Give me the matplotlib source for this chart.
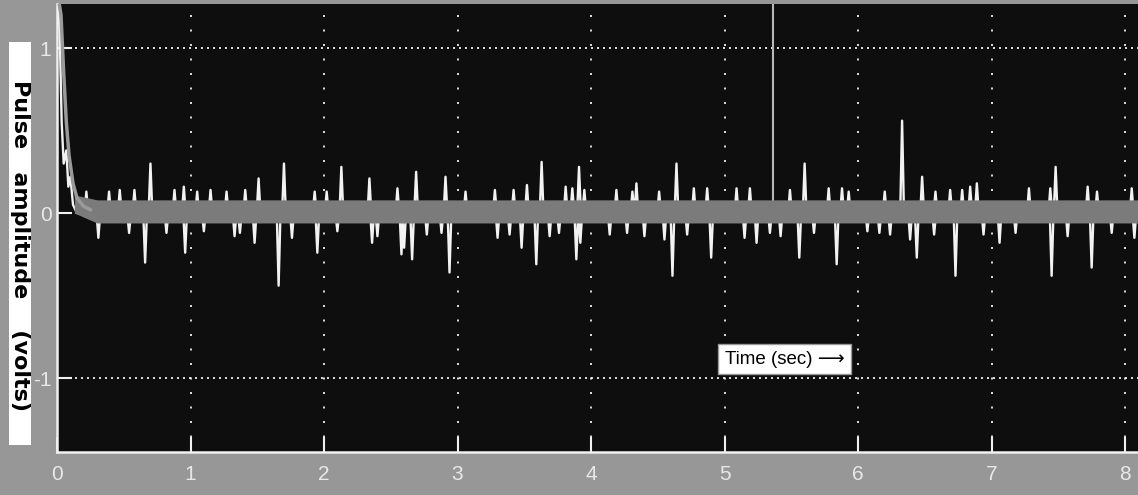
import matplotlib.pyplot as plt
from matplotlib.patches import Rectangle

# gray (averaged) trace: start-up decay, then a noise band around zero
decay_t = [0.0, 0.03, 0.05, 0.07, 0.09, 0.12, 0.15, 0.20, 0.25]
decay_v = [1.35, 1.20, 0.85, 0.55, 0.35, 0.18, 0.09, 0.04, 0.02]
band_t = [0.13, 0.30, 8.10]
band_hi = [0.11, 0.08, 0.08]
band_lo = [0.00, -0.06, -0.06]

# white (raw) trace: start-up decay
wdecay_t = [0.0, 0.02, 0.035, 0.05, 0.07, 0.085, 0.10, 0.12, 0.15]
wdecay_v = [1.35, 1.10, 0.55, 0.30, 0.38, 0.16, 0.22, 0.05, 0.0]

# larger spikes (sec, volts)
pos_t = [0.70, 0.95, 1.51, 1.70, 2.13, 2.34, 2.69, 2.91, 3.42, 3.52, 3.63, 3.91,
         4.34, 4.64, 5.09, 5.19, 5.60, 5.78, 6.33, 6.48, 6.69, 6.78, 6.89, 7.48, 7.72]
pos_v = [0.30, 0.16, 0.21, 0.30, 0.28, 0.21, 0.25, 0.22, 0.14, 0.17, 0.31, 0.28,
         0.18, 0.30, 0.15, 0.15, 0.30, 0.15, 0.56, 0.22, 0.14, 0.14, 0.18, 0.28, 0.16]
neg_t = [0.31, 0.66, 0.96, 1.48, 1.66, 1.95, 2.36, 2.60, 2.66, 2.94, 3.48, 3.59,
         3.76, 3.89, 4.55, 4.61, 4.90, 5.15, 5.34, 5.56, 5.84, 6.24, 6.39, 6.44,
         6.73, 7.06, 7.45, 7.75, 8.07]
neg_v = [-0.15, -0.30, -0.24, -0.18, -0.44, -0.24, -0.18, -0.21, -0.28, -0.36, -0.21, -0.31,
         -0.12, -0.28, -0.16, -0.38, -0.27, -0.15, -0.12, -0.27, -0.31, -0.13, -0.16, -0.27,
         -0.38, -0.18, -0.38, -0.33, -0.15]

# small fuzz poking out of the band
small_t = [0.22, 0.39, 0.47, 0.54, 0.58, 0.82, 0.88, 1.05, 1.10, 1.15, 1.27, 1.33,
           1.37, 1.41, 1.76, 1.93, 2.02, 2.10, 2.40, 2.55, 2.58, 2.77, 2.88, 3.06,
           3.28, 3.30, 3.39, 3.69, 3.81, 3.86, 3.92, 3.95, 4.14, 4.19, 4.27, 4.31,
           4.40, 4.51, 4.72, 4.77, 4.87, 5.24, 5.42, 5.49, 5.67, 5.88, 5.93, 6.07,
           6.16, 6.20, 6.57, 6.58, 6.84, 6.94, 7.18, 7.28, 7.44, 7.57, 7.79, 7.90, 8.05]
small_v = [0.13, 0.13, 0.14, -0.12, 0.14, -0.12, 0.14, 0.13, -0.11, 0.14, 0.13, -0.14,
           -0.12, 0.14, -0.15, 0.13, 0.13, -0.11, -0.14, 0.15, -0.25, -0.13, -0.12, 0.13,
           0.14, -0.15, -0.13, -0.14, 0.16, 0.15, -0.18, 0.14, -0.13, 0.14, -0.12, 0.13,
           -0.14, 0.13, -0.13, 0.15, 0.15, -0.18, -0.14, 0.14, -0.12, 0.15, 0.13, -0.11,
           -0.12, 0.13, -0.13, 0.13, 0.16, -0.13, -0.12, 0.15, 0.15, -0.14, 0.13, -0.12, 0.15]

artifact_t = 5.36  # tall gray line running off the top

x_ticks = [0, 1, 2, 3, 4, 5, 6, 7, 8]
y_ticks = [-1, 0, 1]
y_ticklabels = ['-1', '0', '1']

# build the white trace from the spike list
events = sorted(zip(pos_t + neg_t + small_t, pos_v + neg_v + small_v))
wt = list(wdecay_t)
wv = list(wdecay_v)
hw = 0.014
for t, v in events:
    wt += [t - hw, t, t + hw]
    wv += [0.0, v, 0.0]
wt.append(8.1)
wv.append(0.0)

narrow = ['Liberation Sans', 'DejaVu Sans']

fig = plt.figure(figsize=(11.38, 4.95), dpi=100, facecolor='#979797')
ax = fig.add_axes([57 / 1138, 43 / 495, 1 - 57 / 1138, (452 - 4) / 495])
ax.set_facecolor('#0e0e0e')

ax.plot(wt, wv, color='#f2f2f2', lw=1.7, zorder=2)
ax.fill_between(band_t, band_lo, band_hi, color='#7b7b7b', lw=0, zorder=3)
ax.plot(decay_t, decay_v, color='#9a9a9a', lw=2.5, zorder=3)
ax.plot([artifact_t, artifact_t], [0.05, 1.4], color='#b8b8b8', lw=1.5, zorder=2)

ax.set_xlim(0, 8.097)
ax.set_ylim(-1.448, 1.267)
ax.set_xticks(x_ticks)
ax.set_yticks(y_ticks, y_ticklabels)
ax.xaxis.grid(True, color='white', linestyle=(0, (1.2, 7.5)), lw=1.2)
ax.yaxis.grid(True, color='white', linestyle=(0, (1.2, 2.4)), lw=1.2)
ax.set_axisbelow(True)

for side in ['top', 'right']:
    ax.spines[side].set_visible(False)
for side in ['left', 'bottom']:
    ax.spines[side].set_color('#f0f0f0')
    ax.spines[side].set_linewidth(1.8)

ax.tick_params(direction='in', length=11, width=1.5, color='#f0f0f0',
               labelcolor='#e8e8e8')
ax.tick_params(axis='x', pad=9)
ax.tick_params(axis='y', pad=4)
for lab in ax.get_xticklabels() + ax.get_yticklabels():
    lab.set_fontfamily(narrow)
    lab.set_fontsize(15)

ax.text(5.45, -0.885, 'Time (sec) \u27f6', ha='center', va='center', fontsize=13.5,
        family=narrow, color='black', zorder=5,
        bbox=dict(boxstyle='square,pad=0.35', facecolor='white', edgecolor='#999999', lw=1))

# white box behind the rotated axis title
fig.patches.append(Rectangle((9 / 1138, 1 - 445 / 495), 22 / 1138, 403 / 495,
                             transform=fig.transFigure, facecolor='white',
                             edgecolor='none', zorder=1))
fig.text(20 / 1138, 1 - 246 / 495, 'Pulse   amplitude    (volts)', rotation=270,
         ha='center', va='center', fontsize=16, fontweight='bold', color='black',
         family='DejaVu Sans', zorder=2)

fig.savefig('out.png', dpi=100, facecolor=fig.get_facecolor())
